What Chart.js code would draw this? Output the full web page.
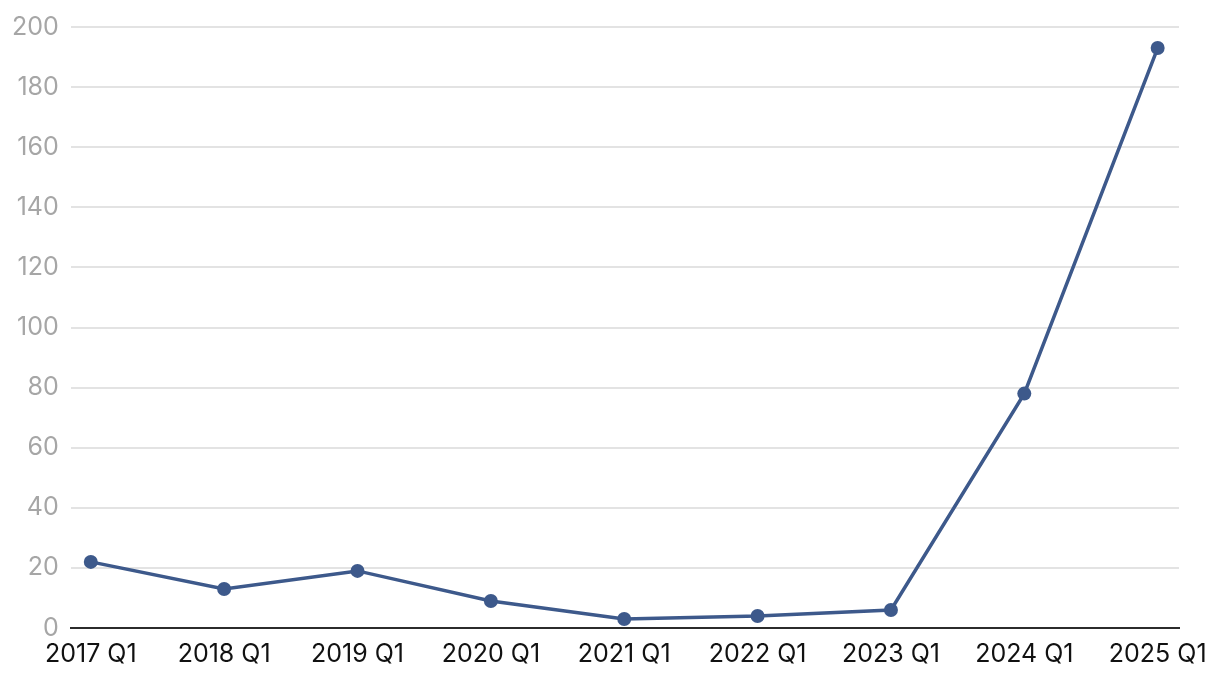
<!DOCTYPE html>
<html>
<head>
<meta charset="utf-8">
<script src="https://cdn.jsdelivr.net/npm/chart.js@4/dist/chart.umd.min.js"></script>
<style>
html,body{margin:0;padding:0;background:#fff;}
#wrap{width:1220px;height:680px;}
</style>
</head>
<body>
<div id="wrap"><canvas id="c" width="1220" height="680"></canvas></div>
<script>
const categories = ["2017 Q1","2018 Q1","2019 Q1","2020 Q1","2021 Q1","2022 Q1","2023 Q1","2024 Q1","2025 Q1"];
const values = [22, 13, 19, 9, 3, 4, 6, 78, 193];
const yTicks = [0,20,40,60,80,100,120,140,160,180,200];

const points = values.map((v,i)=>({x:i,y:v}));
const lineColor = '#3d598b';

new Chart(document.getElementById('c'), {
  type: 'line',
  data: {
    datasets: [{
      data: points,
      borderColor: lineColor,
      backgroundColor: lineColor,
      borderWidth: 3.5,
      pointRadius: 7,
      pointHoverRadius: 7,
      pointBackgroundColor: lineColor,
      pointBorderWidth: 0,
      tension: 0
    }]
  },
  options: {
    responsive: false,
    animation: false,
    devicePixelRatio: 1,
    layout: { padding: { top: 10, right: 41, left: 0, bottom: 0 } },
    plugins: { legend: { display: false }, tooltip: { enabled: false } },
    scales: {
      x: {
        type: 'linear',
        min: -0.15,
        max: categories.length - 1 + 0.16,
        afterBuildTicks: (axis) => { axis.ticks = categories.map((c,i)=>({value:i})); },
        grid: { display: false, drawTicks: false },
        border: { display: true, color: '#2b2b2b', width: 2 },
        ticks: {
          autoSkip: false,
          maxRotation: 0,
          padding: 11,
          color: '#111',
          font: { family: 'Inter', size: 25 },
          callback: (v) => categories[v] ?? ''
        }
      },
      y: {
        min: 0,
        max: 200,
        afterBuildTicks: (axis) => { axis.ticks = yTicks.map(v=>({value:v})); },
        grid: { color: '#e3e3e3', lineWidth: 2, drawTicks: false },
        border: { display: false },
        ticks: {
          padding: 12,
          color: '#a6a6a6',
          font: { family: 'Inter', size: 25 }
        }
      }
    }
  }
});
</script>
</body>
</html>
